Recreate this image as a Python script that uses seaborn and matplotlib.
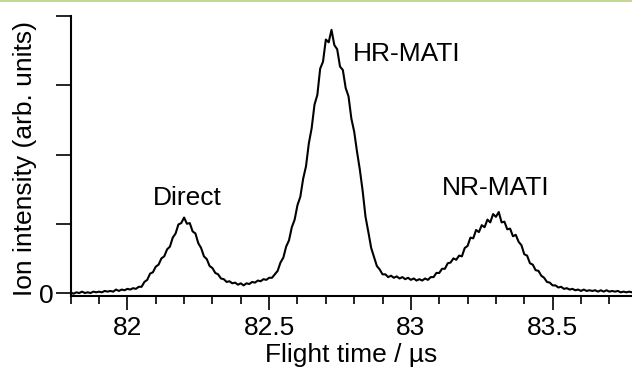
import numpy as np
import pandas as pd
import matplotlib
matplotlib.use("Agg")
import matplotlib.pyplot as plt
from matplotlib.patches import Rectangle
from matplotlib.ticker import MultipleLocator, FixedLocator
import seaborn as sns

# ---- data (flight time in microseconds, 0.01 us grid) ----
t_start, t_step = 81.80, 0.01
intensity = [
    0.01, -0.01, 0.01, 0.00, 0.02, 0.00, 0.01, 0.00, 0.02, 0.01,
    0.02, 0.01, 0.03, 0.02, 0.03, 0.02, 0.05, 0.03, 0.05, 0.04,
    0.06, 0.05, 0.07, 0.06, 0.09, 0.09, 0.16, 0.19, 0.28, 0.30,
    0.38, 0.41, 0.50, 0.53, 0.63, 0.67, 0.80, 0.86, 0.99, 1.01,
    1.09, 1.00, 1.01, 0.89, 0.86, 0.72, 0.65, 0.53, 0.49, 0.39,
    0.36, 0.29, 0.27, 0.21, 0.20, 0.16, 0.17, 0.14, 0.15, 0.12,
    0.14, 0.11, 0.14, 0.13, 0.16, 0.15, 0.18, 0.17, 0.20, 0.19,
    0.22, 0.22, 0.27, 0.32, 0.44, 0.51, 0.67, 0.76, 0.95, 1.06,
    1.27, 1.39, 1.65, 1.83, 2.16, 2.38, 2.72, 2.86, 3.24, 3.34,
    3.66, 3.62, 3.80, 3.58, 3.52, 3.27, 3.22, 2.96, 2.84, 2.52,
    2.33, 2.04, 1.78, 1.47, 1.10, 0.88, 0.65, 0.52, 0.39, 0.34,
    0.27, 0.27, 0.23, 0.25, 0.22, 0.24, 0.21, 0.23, 0.20, 0.22,
    0.19, 0.21, 0.18, 0.20, 0.18, 0.21, 0.19, 0.23, 0.23, 0.29,
    0.29, 0.35, 0.35, 0.43, 0.44, 0.50, 0.48, 0.54, 0.53, 0.65,
    0.68, 0.80, 0.79, 0.91, 0.88, 0.98, 0.95, 1.06, 1.02, 1.14,
    1.10, 1.17, 1.02, 1.03, 0.92, 0.93, 0.82, 0.84, 0.74, 0.69,
    0.56, 0.54, 0.43, 0.41, 0.33, 0.32, 0.25, 0.22, 0.16, 0.15,
    0.11, 0.11, 0.08, 0.09, 0.06, 0.07, 0.05, 0.06, 0.04, 0.05,
    0.03, 0.05, 0.03, 0.04, 0.03, 0.04, 0.02, 0.04, 0.02, 0.04,
    0.02, 0.03, 0.02, 0.03, 0.01, 0.02, 0.01, 0.02, 0.01,
]
flight_time = np.round(t_start + t_step * np.arange(len(intensity)), 2)

peak_labels = ["Direct", "HR-MATI", "NR-MATI"]
peak_label_x = [82.21, 82.985, 83.30]
peak_label_y = [1.27, 3.35, 1.415]

x_tick_values = [82, 82.5, 83, 83.5]
x_tick_labels = ["82", "82.5", "83", "83.5"]
y_tick_values = [0, 1, 2, 3, 4]
y_tick_labels = ["0", "", "", "", ""]

df = pd.DataFrame({"time": flight_time, "signal": intensity})

# ---- styling ----
sns.set_theme(style="ticks")
plt.rcParams["font.family"] = ["Liberation Sans", "DejaVu Sans"]
FS = 19

fig = plt.figure(figsize=(6.32, 3.69), dpi=100)
ax = fig.add_axes([70.7 / 632, 1 - 296 / 369, 1 - 70.7 / 632, (296 - 16) / 369])

sns.lineplot(data=df, x="time", y="signal", ax=ax, color="black",
             linewidth=1.5, estimator=None, sort=False)

ax.set_xlim(81.80, 83.78)
ax.set_ylim(-0.043, 4.0)

ax.xaxis.set_major_locator(FixedLocator(x_tick_values))
ax.set_xticklabels(x_tick_labels)
ax.xaxis.set_minor_locator(MultipleLocator(0.1))
ax.set_yticks(y_tick_values)
ax.set_yticklabels(y_tick_labels)

ax.tick_params(axis="x", which="major", direction="out", length=10, width=1.2,
               labelsize=FS, pad=4.5, colors="black")
ax.tick_params(axis="x", which="minor", direction="out", length=5.8, width=1.2,
               colors="black")
ax.tick_params(axis="y", which="major", direction="out", length=10.8, width=1.2,
               labelsize=FS, pad=1.5, colors="black")

for side in ["top", "right"]:
    ax.spines[side].set_visible(False)
for side in ["left", "bottom"]:
    ax.spines[side].set_linewidth(1.5)
    ax.spines[side].set_color("black")

ax.set_xlabel("Flight time / µs", fontsize=FS, color="black")
ax.set_ylabel("Ion intensity (arb. units)", fontsize=FS, color="black")
ax.xaxis.set_label_coords(0.5, -0.168)
ax.yaxis.set_label_coords(-0.06, 0.49)

for lab, lx, ly in zip(peak_labels, peak_label_x, peak_label_y):
    ax.text(lx, ly, lab, fontsize=FS, ha="center", va="baseline", color="black")

# thin green rule along the top edge
fig.add_artist(Rectangle((0, 1 - 2 / 369), 1, 2 / 369, transform=fig.transFigure,
                         facecolor="#c4d79b", edgecolor="none"))

fig.savefig("out.png", dpi=100)
